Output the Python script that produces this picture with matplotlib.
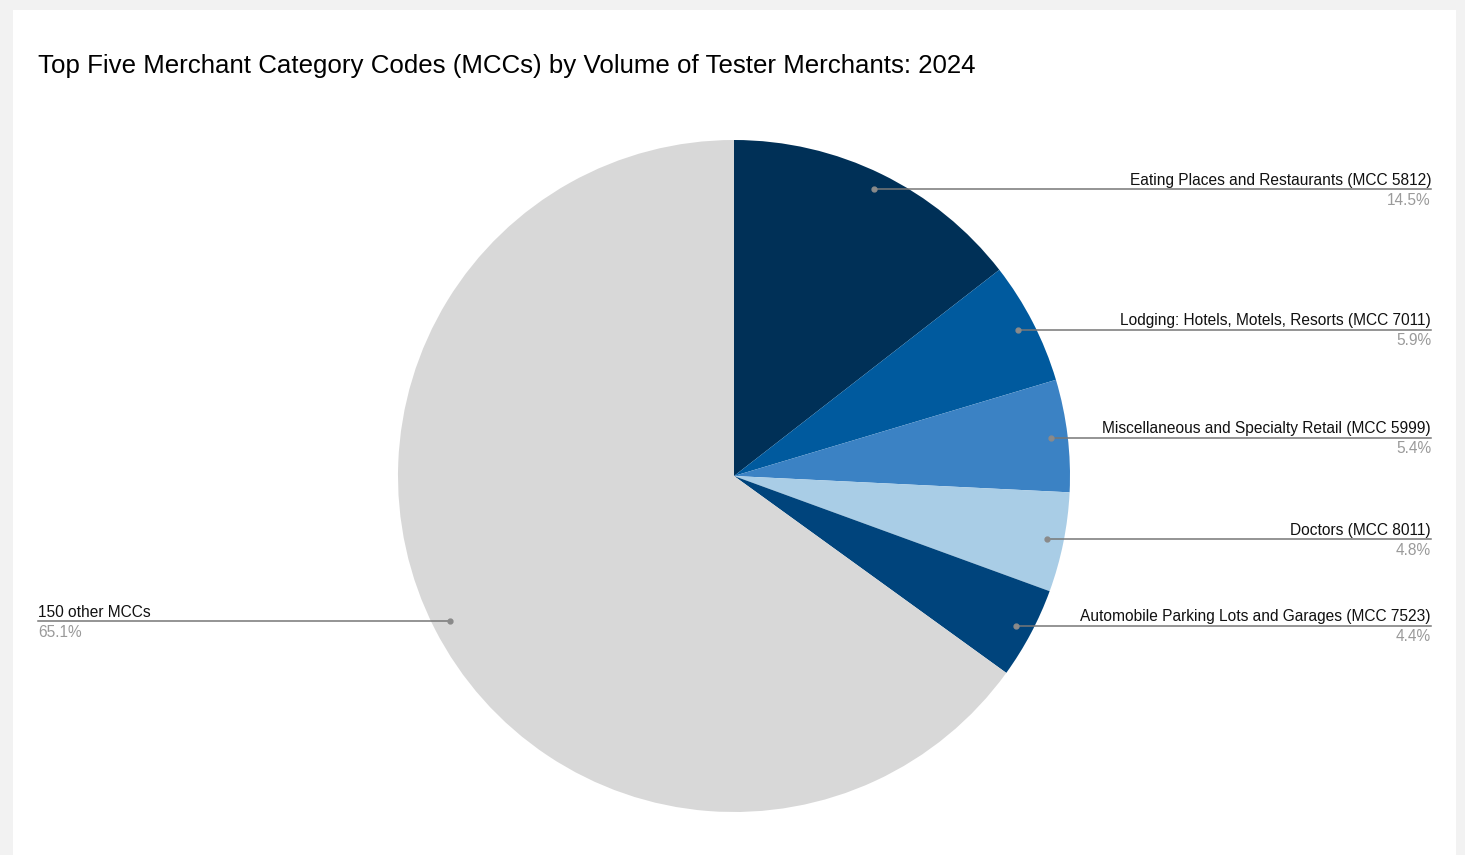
import numpy as np
import matplotlib
matplotlib.use("Agg")
import matplotlib.pyplot as plt
from matplotlib.patches import Rectangle

plt.rcParams['font.family'] = ['Liberation Sans', 'DejaVu Sans']

title = "Top Five Merchant Category Codes (MCCs) by Volume of Tester Merchants: 2024"
categories = [
    "Eating Places and Restaurants (MCC 5812)",
    "Lodging: Hotels, Motels, Resorts (MCC 7011)",
    "Miscellaneous and Specialty Retail (MCC 5999)",
    "Doctors (MCC 8011)",
    "Automobile Parking Lots and Garages (MCC 7523)",
    "150 other MCCs",
]
shares = [14.5, 5.9, 5.4, 4.8, 4.4, 65.1]
colors = ["#003057", "#005a9e", "#3b82c4", "#a9cde6", "#00447c", "#d8d8d8"]

W, H = 1465, 855
fig = plt.figure(figsize=(W / 100, H / 100), dpi=100)
fig.patch.set_facecolor("#f2f2f2")
ax = fig.add_axes([0, 0, 1, 1])
ax.set_xlim(0, W)
ax.set_ylim(0, H)
ax.axis("off")

# white card
ax.add_patch(Rectangle((13, 0), 1443, H - 10, facecolor="white", edgecolor="none", zorder=0))

cx, cy, R = 734, H - 476, 336
wedges, _ = ax.pie(shares, colors=colors, startangle=90, counterclock=False,
                   center=(cx, cy), radius=R, frame=True,
                   wedgeprops=dict(linewidth=0))
ax.set_xlim(0, W)
ax.set_ylim(0, H)
ax.set_aspect("equal")
ax.axis("off")

ax.text(38, H - 66, title, fontsize=18.6, ha="left", va="center", color="#000000")

for w, name, val in zip(wedges, categories, shares):
    mid = np.deg2rad((w.theta1 + w.theta2) / 2)
    px = cx + 0.95 * R * np.cos(mid)
    py = cy + 0.95 * R * np.sin(mid)
    if px >= cx:
        x_end, ha = 1431, "right"
    else:
        x_end, ha = 38, "left"
    ax.plot([px, x_end], [py, py], color="#777777", lw=1.1, zorder=3)
    ax.plot([px], [py], marker="o", ms=3.5, color="#8a8a8a", zorder=4)
    ax.text(x_end, py + 1.5, name, fontsize=11.2, ha=ha, va="bottom", color="#111111")
    ax.text(x_end, py - 3.5, f"{val:.1f}%", fontsize=11.2, ha=ha, va="top", color="#9a9a9a")

fig.savefig("out.png", dpi=100, facecolor=fig.get_facecolor())
